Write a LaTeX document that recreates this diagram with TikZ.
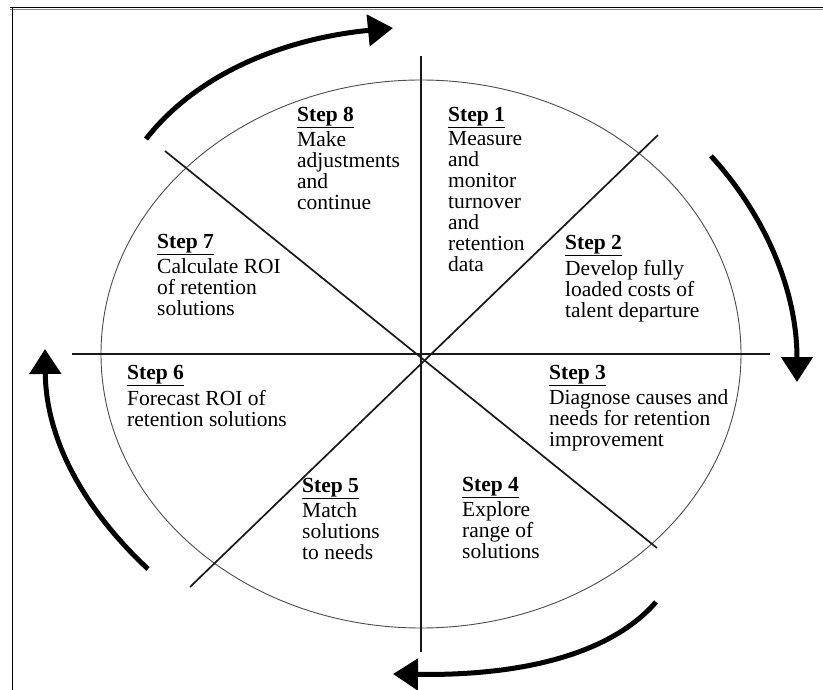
\documentclass[tikz,border=0pt]{standalone}
\usepackage{fontspec}
\setmainfont{Liberation Serif}
\usetikzlibrary{arrows.meta}
\newcommand{\stephead}[1]{\textbf{\underline{#1}}}

\begin{document}
\begin{tikzpicture}[x=1pt,y=-1pt,
  spoke/.style={line width=1.7pt,black!90},
  turn/.style={line width=5pt,-{Triangle[length=25pt,width=31pt]}},
  steptext/.style={anchor=north west,inner sep=0pt,align=left,
    font=\fontsize{21.5}{21}\selectfont}]
\useasboundingbox (0,0) rectangle (823,690);
% frame
\draw[line width=1.2pt] (10,7.3) -- (823,7.3);
\draw[line width=1.6pt,black!45] (10,9.4) -- (823,9.4);
\draw[line width=1pt] (12,7) -- (12,690);
% wheel and spokes
\coordinate (c) at (421,354);
\coordinate (n) at (421,56);
\coordinate (s) at (421,652);
\coordinate (w) at (72,354);
\coordinate (e) at (770,354);
\coordinate (nw) at (165,151);
\coordinate (se) at (657,548);
\coordinate (ne) at (658,135);
\coordinate (sw) at (190,587);
\draw[line width=0.9pt,black!70] (c) ellipse [x radius=320, y radius=274];
\draw[spoke] (n) -- (s);
\draw[spoke] (w) -- (e);
\draw[spoke] (nw) -- (se);
\draw[spoke] (ne) -- (sw);
% arrows round the wheel
\draw[turn] (146,139) .. controls (200,70) and (290,38) .. (393,28);
\draw[turn] (711,156) .. controls (765,215) and (797,290) .. (797,382);
\draw[turn] (656,602) .. controls (610,655) and (520,676) .. (393,674);
\draw[turn] (148,569) .. controls (90,515) and (46,445) .. (45,349);
% steps
\node[steptext] (step1) at (448,107) {\stephead{Step 1}\\[3pt]
  Measure\\ and\\ monitor\\ turnover\\ and\\ retention\\ data};
\node[steptext] (step2) at (565,235) {\stephead{Step 2}\\[3pt]
  Develop fully\\ loaded costs of\\ talent departure};
\node[steptext] (step3) at (549,365) {\stephead{Step 3}\\[3pt]
  Diagnose causes and\\ needs for retention\\ improvement};
\node[steptext] (step4) at (462,477) {\stephead{Step 4}\\[3pt]
  Explore\\ range of\\ solutions};
\node[steptext] (step5) at (302,478) {\stephead{Step 5}\\[3pt]
  Match\\ solutions\\ to needs};
\node[steptext] (step6) at (127,365) {\stephead{Step 6}\\[3pt]
  Forecast ROI of\\ retention solutions};
\node[steptext] (step7) at (157,234) {\stephead{Step 7}\\[3pt]
  Calculate ROI\\ of retention\\ solutions};
\node[steptext] (step8) at (297,107) {\stephead{Step 8}\\[3pt]
  Make\\ adjustments\\ and\\ continue};
\end{tikzpicture}
\end{document}
